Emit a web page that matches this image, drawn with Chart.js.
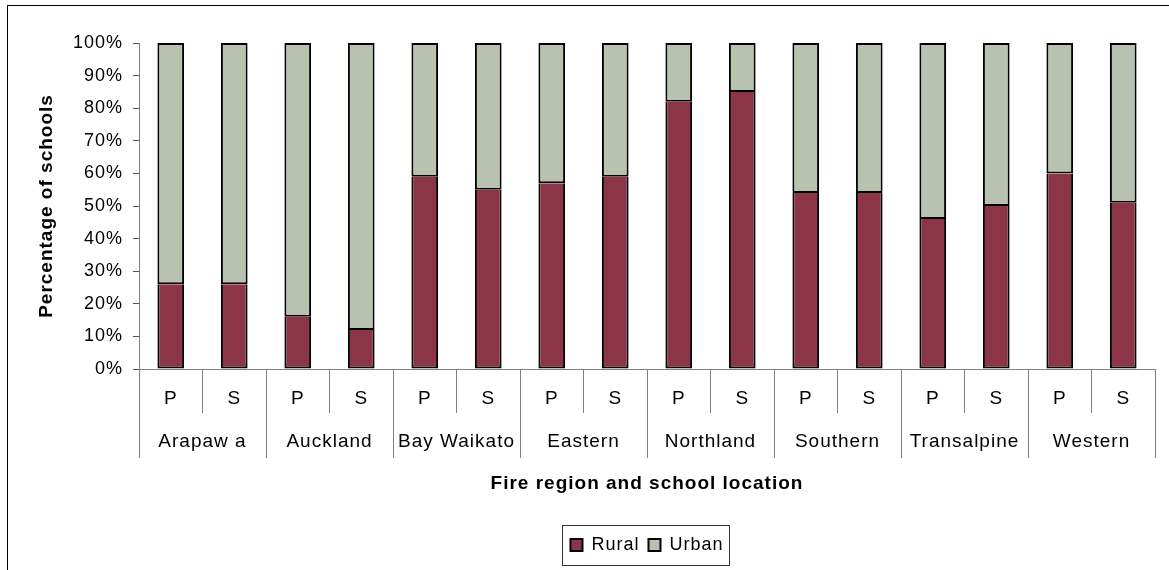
<!DOCTYPE html>
<html>
<head>
<meta charset="utf-8">
<title>Fire region and school location</title>
<script src="https://cdn.jsdelivr.net/npm/chart.js@4.4.1/dist/chart.umd.min.js"></script>
<style>
  body { margin: 0; background: #fff; }
  #wrap { width: 1169px; height: 570px; }
</style>
</head>
<body>
<div id="wrap"><canvas id="myChart" width="1169" height="570"></canvas></div>
<script>
'use strict';

// school type under each fire region
let barLabels = ['P', 'S', 'P', 'S', 'P', 'S', 'P', 'S', 'P', 'S', 'P', 'S', 'P', 'S', 'P', 'S'];
let regionNames = ['Arapaw a', 'Auckland', 'Bay Waikato', 'Eastern', 'Northland', 'Southern', 'Transalpine', 'Western'];

let ruralValues = [26, 26, 16, 12, 59, 55, 57, 59, 82, 85, 54, 54, 46, 50, 60, 51];
let urbanValues = [74, 74, 84, 88, 41, 45, 43, 41, 18, 15, 46, 46, 54, 50, 40, 49];

let yTicks = [0, 10, 20, 30, 40, 50, 60, 70, 80, 90, 100];

let ruralColor = '#8C3548';
let urbanColor = '#B8C2AE';
let lineGray = '#808080';

Chart.defaults.font.family = '"Liberation Sans", Arial, sans-serif';
Chart.defaults.color = '#000';

// the original text is a bit wider than plain Arial
const spacingPlugin = {
  id: 'spacing',
  beforeLayout(chart) {
    chart.ctx.letterSpacing = '1px';
  },
  beforeDraw(chart) {
    chart.ctx.letterSpacing = '1px';
  }
};

const framePlugin = {
  id: 'frame',
  afterDraw(chart) {
    let ctx = chart.ctx;
    ctx.save();
    ctx.strokeStyle = '#000';
    ctx.lineWidth = 1;
    ctx.strokeRect(7.5, 5.5, 1200, 600);

    // box round the legend
    let boxes = chart.legend.legendHitBoxes;
    if (boxes && boxes.length) {
      let minLeft = boxes[0].left;
      let maxRight = boxes[0].left + boxes[0].width;
      let midY = boxes[0].top + boxes[0].height / 2;
      for (let i = 1; i < boxes.length; i++) {
        minLeft = Math.min(minLeft, boxes[i].left);
        maxRight = Math.max(maxRight, boxes[i].left + boxes[i].width);
      }
      ctx.strokeStyle = '#333';
      ctx.strokeRect(Math.round(minLeft - 8) + 0.5, Math.round(midY - 20) + 0.5, Math.round(maxRight - minLeft + 14), 40);
    }
    ctx.restore();
  }
};

const chartGraphics = {
  type: 'bar',
  data: {
    labels: barLabels,
    datasets: [{
      label: 'Rural',
      data: ruralValues,
      backgroundColor: ruralColor,
      borderColor: '#000',
      borderWidth: 2,
      borderSkipped: 'top',
      barPercentage: 0.42,
      categoryPercentage: 1
    },
    {
      label: 'Urban',
      data: urbanValues,
      backgroundColor: urbanColor,
      borderColor: '#000',
      borderWidth: 2,
      borderSkipped: false,
      barPercentage: 0.42,
      categoryPercentage: 1
    }]
  },
  options: {
    responsive: false,
    animation: false,
    layout: {
      padding: { left: 35, right: 14, top: 43, bottom: 6 }
    },
    plugins: {
      tooltip: { enabled: false },
      legend: {
        position: 'bottom',
        fullSize: false,
        title: {
          display: true,
          text: ' ',
          font: { size: 10 },
          padding: { top: 20, bottom: 0 }
        },
        labels: {
          boxWidth: 12,
          boxHeight: 12,
          padding: 9,
          font: { size: 18 },
          color: '#000'
        }
      }
    },
    scales: {
      x: {
        stacked: true,
        weight: 0,
        afterFit(scale) { scale.height = 44; },
        grid: {
          drawOnChartArea: false,
          offset: true,
          tickLength: 44,
          color: lineGray
        },
        border: { color: lineGray, width: 1 },
        ticks: {
          padding: -26,
          autoSkip: false,
          maxRotation: 0,
          font: { size: 19 }
        }
      },
      x2: {
        type: 'category',
        position: 'bottom',
        labels: regionNames,
        offset: true,
        weight: 1,
        afterFit(scale) { scale.height = 82; },
        grid: {
          drawOnChartArea: false,
          offset: true,
          tickLength: 45,
          color: lineGray
        },
        border: { display: false },
        ticks: {
          padding: -28,
          autoSkip: false,
          maxRotation: 0,
          font: { size: 19 }
        },
        title: {
          display: true,
          text: 'Fire region and school location',
          font: { size: 19, weight: 'bold' },
          padding: { top: 0, bottom: 0 }
        }
      },
      y: {
        stacked: true,
        min: 0,
        max: 100,
        afterFit(scale) { scale.width = 104; },
        afterBuildTicks(scale) {
          scale.ticks = yTicks.map(function (v) { return { value: v }; });
        },
        grid: {
          drawOnChartArea: false,
          tickLength: 6,
          color: '#555'
        },
        border: { color: lineGray, width: 1 },
        ticks: {
          padding: 10,
          font: { size: 18 },
          callback: function (value) { return value + '%'; }
        },
        title: {
          display: true,
          text: 'Percentage of schools',
          font: { size: 19, weight: 'bold' },
          padding: { top: 0, bottom: 0 }
        }
      }
    }
  },
  plugins: [spacingPlugin, framePlugin]
};

let canvasChart = document.getElementById('myChart').getContext('2d');
const myChart = new Chart(canvasChart, chartGraphics);
</script>
</body>
</html>
